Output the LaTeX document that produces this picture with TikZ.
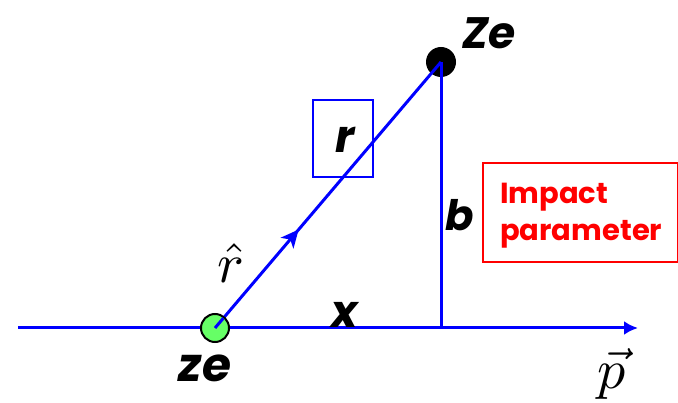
\documentclass[tikz,border=0pt]{standalone}
\usepackage{fontspec}
\setmainfont{Poppins}
\usetikzlibrary{arrows.meta,calc}
\tikzset{
  ax/.style={draw=blue, line width=3pt},
  lbl/.style={inner sep=0pt},
  mathlbl/.style={inner sep=0pt},
}
\newcommand{\bigbi}[1]{\fontsize{#1}{#1}\selectfont\bfseries\itshape}
\begin{document}
\begin{tikzpicture}[x=1pt,y=-1pt]
\useasboundingbox (0,0) rectangle (678,403);
% points
\coordinate (left) at (18,328);
\coordinate (right) at (638,328);
\coordinate (foot) at (441,328);
\node[circle, minimum size=30pt, inner sep=0pt] (q) at (215,328) {};
\node[circle, fill=black, minimum size=30pt, inner sep=0pt] (Q) at (441,62) {};
% lines
\draw[ax] (left) -- (q);
\draw[ax, -{Latex[length=14pt,width=14pt]}] (q) -- (right);
\draw[ax] (foot) -- (Q.center);
\draw[ax] (q.center) -- (Q.center);
% mid arrowhead on r-hat direction
\coordinate (mid) at ($(q.center)!0.37!(Q.center)$);
\coordinate (mb) at ($(mid)!18pt!(q.center)$);
\coordinate (mn) at ($(mid)!13pt!(q.center)$);
\fill[blue] (mid) -- ($(mb)!8.5pt!90:(mid)$) -- (mn) -- ($(mb)!8.5pt!-90:(mid)$) -- cycle;
\node[circle, fill=green!60!white, draw=black, line width=2pt, minimum size=28pt, inner sep=0pt] at (q) {};
\draw[blue, line width=3pt] (q.center) -- ($(q.center)!13pt!(Q.center)$);
% labels
\node[lbl, font=\bigbi{44}] (Zl) at (489,33) {Ze};
\node[lbl, font=\bigbi{47}] (zl) at (205,368) {ze};
\node[draw=blue, line width=2pt, minimum width=60pt, minimum height=77pt, inner sep=0pt] (rbox) at (343,138.5) {};
\node[lbl, font=\bigbi{45}] (rl) at (345,140) {r};
\node[lbl, font=\bigbi{42}] (bl) at (460,215) {b};
\node[lbl, font=\bigbi{45}] (xl) at (345,315) {x};
\node[mathlbl] (rh) at (231,263) {\scalebox{5.6}{$\hat{r}$}};
\node[mathlbl] (pv) at (612,374) {\scalebox{5.6}{$\vec{p}$}};
\node[draw=red, line width=1.5pt, minimum width=195pt, minimum height=99pt, inner sep=0pt] (ibox) at (580.5,212.5) {};
\node[anchor=base west, text=red, font=\fontsize{29}{29}\selectfont\bfseries, inner sep=0pt] (il1) at (500,204) {Impact};
\node[anchor=base west, text=red, font=\fontsize{29}{29}\selectfont\bfseries, inner sep=0pt] (il2) at (500,241) {parameter};
\end{tikzpicture}
\end{document}
